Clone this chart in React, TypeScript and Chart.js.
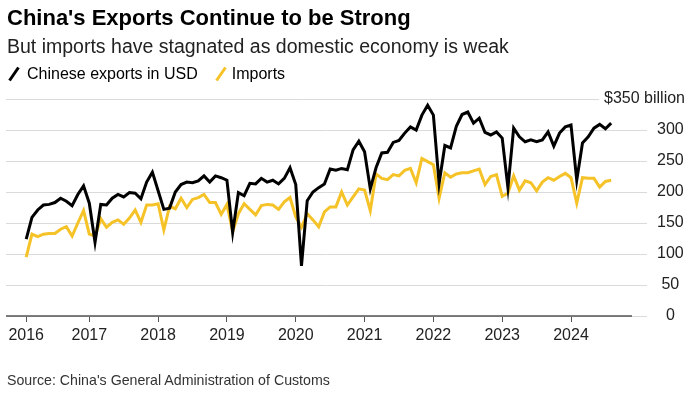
import React, { useEffect, useRef } from 'react';
import { Chart, registerables } from 'chart.js';

Chart.register(...registerables);

// Monthly values, Feb 2016 .. Aug 2024 (USD billions)
const firstMonthIndex = 1; // months since Jan 2016 (Feb 2016)
const exportsUSD = [
  124, 159, 171, 179, 180, 183, 190, 185, 178, 196, 210,
  182, 119, 180, 179, 190, 196, 192, 199, 198, 189, 216, 232,
  202, 172, 174, 200, 212, 216, 215, 218, 226, 216, 226, 223,
  219, 135, 199, 194, 214, 213, 222, 216, 219, 213, 222, 239,
  212, 81, 186, 200, 207, 213, 237, 235, 238, 236, 268, 282,
  265, 205, 239, 263, 264, 280, 283, 295, 305, 300, 324, 340,
  324, 214, 275, 271, 306, 325, 329, 311, 319, 296, 292, 297,
  287, 207, 303, 289, 281, 284, 281, 284, 297, 274, 295, 305,
  308, 219, 279, 289, 303, 309, 302, 311,
];
const importsUSD = [
  95, 132, 128, 132, 133, 133, 140, 144, 129, 150, 170,
  132, 129, 157, 143, 151, 155, 148, 158, 171, 151, 179, 179,
  181, 139, 177, 173, 190, 175, 188, 191, 196, 183, 183, 164,
  180, 136, 165, 181, 172, 163, 178, 180, 179, 172, 184, 191,
  160, 143, 165, 155, 144, 168, 176, 176, 200, 179, 192, 205,
  203, 170, 229, 222, 220, 228, 226, 235, 238, 215, 254, 249,
  244, 190, 231, 224, 229, 231, 231, 234, 237, 212, 225, 228,
  193, 198, 226, 203, 218, 215, 202, 216, 223, 219, 225, 230,
  223, 182, 223, 222, 222, 208, 217, 219,
];
const yearTickMonths = [1, 12, 24, 36, 48, 60, 72, 84, 96];
const yearTickLabels = ['2016', '2017', '2018', '2019', '2020', '2021', '2022', '2023', '2024'];
const unitLabel = '$350 billion';
const seriesNames = ['Chinese exports in USD', 'Imports'];

const FONT = '"Liberation Sans", Arial, Helvetica, sans-serif';
const BLACK = '#000000';
const YELLOW = '#f5c227';

const extrasPlugin = {
  id: 'extras',
  beforeDatasetsDraw(chart: any) {
    const { ctx, chartArea, scales } = chart;
    const y = scales.y;
    ctx.save();
    ctx.font = `16px ${FONT}`;
    const unitW = ctx.measureText(unitLabel).width;
    const unitRight = chart.width - 7;
    y.ticks.forEach((t: any) => {
      const py = Math.round(y.getPixelForValue(t.value)) + 0.5;
      const right = t.value === 350 ? unitRight - unitW - 5 : chartArea.right;
      ctx.strokeStyle = '#dadada';
      ctx.lineWidth = 1;
      ctx.beginPath();
      ctx.moveTo(chartArea.left, py);
      ctx.lineTo(right, py);
      ctx.stroke();
    });
    const by = y.getPixelForValue(0);
    ctx.strokeStyle = '#555';
    ctx.lineWidth = 1.5;
    ctx.beginPath();
    ctx.moveTo(chartArea.left, by);
    ctx.lineTo(chartArea.right - 15, by);
    ctx.stroke();
    ctx.restore();
  },
  afterDraw(chart: any) {
    const { ctx, scales } = chart;
    const y = scales.y;
    ctx.save();
    ctx.font = `16px ${FONT}`;
    ctx.fillStyle = '#222';
    ctx.textAlign = 'right';
    ctx.textBaseline = 'middle';
    ctx.fillText(unitLabel, chart.width - 7, y.getPixelForValue(350));
    ctx.restore();
  },
};

function Slash({ color }: { color: string }) {
  return (
    <svg width="14" height="16" style={{ display: 'inline-block', verticalAlign: 'top' }}>
      <line x1="2.5" y1="14.5" x2="11.5" y2="1.5" stroke={color} strokeWidth="3" />
    </svg>
  );
}

export default function App() {
  const ref = useRef<HTMLCanvasElement | null>(null);

  useEffect(() => {
    if (!ref.current) return;
    Chart.defaults.font.family = FONT;
    const chart = new Chart(ref.current, {
      type: 'line',
      data: {
        datasets: [
          {
            label: seriesNames[0],
            data: exportsUSD.map((v, i) => ({ x: firstMonthIndex + i, y: v })),
            borderColor: BLACK,
            borderWidth: 3,
            pointRadius: 0,
            tension: 0,
          },
          {
            label: seriesNames[1],
            data: importsUSD.map((v, i) => ({ x: firstMonthIndex + i, y: v })),
            borderColor: YELLOW,
            borderWidth: 3,
            pointRadius: 0,
            tension: 0,
          },
        ],
      },
      options: {
        animation: false,
        responsive: false,
        devicePixelRatio: 1,
        layout: { padding: { top: 99, left: 6, right: 7, bottom: 43 } },
        plugins: { legend: { display: false }, tooltip: { enabled: false }, title: { display: false } },
        scales: {
          x: {
            type: 'linear',
            min: -2.525,
            max: 109.25,
            afterBuildTicks: (scale: any) => {
              scale.ticks = yearTickMonths.map((m) => ({ value: m }));
            },
            afterFit: (scale: any) => {
              scale.height = 40;
            },
            grid: {
              display: true,
              drawOnChartArea: false,
              drawTicks: true,
              tickLength: 6,
              color: '#555',
              lineWidth: 1,
            },
            border: { display: false },
            ticks: {
              autoSkip: false,
              maxRotation: 0,
              padding: 4,
              color: '#222',
              font: { size: 16, family: FONT },
              callback: (v: any) => {
                const idx = yearTickMonths.indexOf(Number(v));
                return idx >= 0 ? yearTickLabels[idx] : '';
              },
            },
          },
          y: {
            position: 'right',
            min: 0,
            max: 350,
            afterFit: (scale: any) => {
              scale.width = 38;
            },
            grid: { display: false, drawTicks: false, tickLength: 0 },
            border: { display: false },
            ticks: {
              stepSize: 50,
              crossAlign: 'center',
              padding: 10,
              color: '#222',
              font: { size: 16, family: FONT },
              callback: (v: any) => (Number(v) === 350 ? '' : String(v)),
            },
          },
        },
      },
      plugins: [extrasPlugin],
    } as any);
    return () => chart.destroy();
  }, []);

  const abs = (top: number, left: number, size: number, extra: React.CSSProperties = {}): React.CSSProperties => ({
    position: 'absolute',
    top,
    left,
    fontSize: size,
    lineHeight: `${size}px`,
    fontFamily: FONT,
    whiteSpace: 'nowrap',
    ...extra,
  });

  return (
    <div style={{ position: 'fixed', left: 0, top: 0, width: 692, height: 399, background: '#fff', overflow: 'hidden' }}>
      <canvas ref={ref} width={692} height={399} style={{ position: 'absolute', left: 0, top: 0, width: 692, height: 399 }} />
      <div style={abs(7.4, 7, 22, { fontWeight: 700, color: '#000' })}>China's Exports Continue to be Strong</div>
      <div style={abs(36.6, 7, 19.5, { color: '#222' })}>But imports have stagnated as domestic economy is weak</div>
      <div style={abs(65.5, 7, 16, { color: '#000' })}>
        <Slash color={BLACK} />
        <span style={{ marginLeft: 6 }}>{seriesNames[0]}</span>
        <span style={{ marginLeft: 16 }}><Slash color={YELLOW} /></span>
        <span style={{ marginLeft: 4 }}>{seriesNames[1]}</span>
      </div>
      <div style={abs(372.8, 7, 14.2, { color: '#333' })}>Source: China's General Administration of Customs</div>
    </div>
  );
}
